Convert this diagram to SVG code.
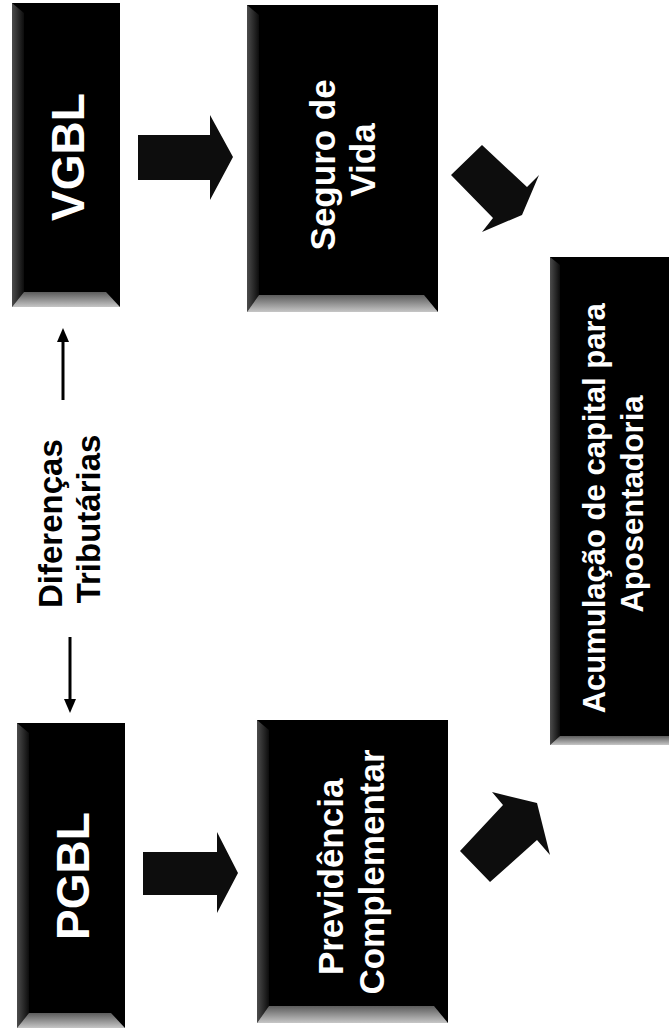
<svg xmlns="http://www.w3.org/2000/svg" width="669" height="1033" viewBox="0 0 669 1033">
  <defs>
    <linearGradient id="bevelBottom" x1="0" y1="0" x2="0" y2="1">
      <stop offset="0" stop-color="#5c5c5c"/>
      <stop offset="1" stop-color="#c6c6c6"/>
    </linearGradient>
    <linearGradient id="bevelLeft" x1="0" y1="0" x2="1" y2="0">
      <stop offset="0" stop-color="#4c4c4c"/>
      <stop offset="1" stop-color="#0c0c0c"/>
    </linearGradient>
    <marker id="head" viewBox="0 0 14 12" refX="4" refY="6" markerWidth="14" markerHeight="12" markerUnits="userSpaceOnUse" orient="auto">
      <path d="M0,0 L14,6 L0,12 z" fill="#000"/>
    </marker>
  </defs>
  <style>
    .box { fill: #000; }
    .bev-b { fill: url(#bevelBottom); }
    .bev-l { fill: url(#bevelLeft); }
    .label { font-family: "Liberation Sans", Arial, sans-serif; font-weight: bold; fill: #fff; text-anchor: middle; }
    .note { font-family: "Liberation Sans", Arial, sans-serif; font-weight: bold; fill: #000; text-anchor: middle; font-size: 33px; }
    .block { fill: #0d0d0d; }
    .thin { stroke: #000; stroke-width: 3; fill: none; marker-end: url(#head); }
  </style>

  <rect width="669" height="1033" fill="#fff"/>

  <!-- VGBL -->
  <g id="vgbl">
    <rect class="box" x="12" y="3" width="108" height="304"/>
    <polygon class="bev-l" points="12,3 24,13 24,292 12,307"/>
    <polygon class="bev-b" points="12,307 24,292 106,292 120,307"/>
    <text class="label" font-size="46" transform="translate(68,157) rotate(-90)" y="16">VGBL</text>
  </g>

  <!-- Seguro de Vida -->
  <g id="seguro">
    <rect class="box" x="247" y="5" width="191" height="307"/>
    <polygon class="bev-l" points="247,5 259,15 259,295 247,312"/>
    <polygon class="bev-b" points="247,312 259,295 424,295 438,312"/>
    <text class="label" font-size="35" transform="translate(0,160) rotate(-90)">
      <tspan x="0" y="335">Seguro de</tspan>
      <tspan x="0" y="375">Vida</tspan>
    </text>
  </g>

  <!-- Acumulação de capital para Aposentadoria -->
  <g id="acumulacao">
    <rect class="box" x="550" y="257" width="119" height="488"/>
    <polygon class="bev-l" points="550,257 560,265 560,736 550,745"/>
    <polygon class="bev-b" points="550,745 560,736 669,736 669,745"/>
    <text class="label" font-size="31" transform="translate(0,504) rotate(-90)">
      <tspan x="0" y="605">Acumulação de capital para</tspan>
      <tspan x="0" y="643">Aposentadoria</tspan>
    </text>
  </g>

  <!-- PGBL -->
  <g id="pgbl">
    <rect class="box" x="17" y="723" width="108" height="305"/>
    <polygon class="bev-l" points="17,723 29,733 29,1013 17,1028"/>
    <polygon class="bev-b" points="17,1028 29,1013 111,1013 125,1028"/>
    <text class="label" font-size="46" transform="translate(72,876) rotate(-90)" y="17">PGBL</text>
  </g>

  <!-- Previdência Complementar -->
  <g id="previdencia">
    <rect class="box" x="257" y="720" width="191" height="303"/>
    <polygon class="bev-l" points="257,720 269,730 269,1006 257,1023"/>
    <polygon class="bev-b" points="257,1023 269,1006 434,1006 448,1023"/>
    <text class="label" font-size="35" transform="translate(0,872) rotate(-90)">
      <tspan x="0" y="343">Previdência</tspan>
      <tspan x="0" y="384">Complementar</tspan>
    </text>
  </g>

  <!-- Diferenças Tributárias -->
  <g id="diferencas">
    <text class="note" transform="translate(0,519) rotate(-90)">
      <tspan x="0" y="62">Diferenças</tspan>
      <tspan x="0" y="100">Tributárias</tspan>
    </text>
  </g>

  <!-- connectors -->
  <g id="connectors">
    <!-- block arrows between the boxes -->
    <polygon class="block" points="138,135 210,135 210,115 233,157 210,200 210,180 138,180"/>
    <polygon class="block" points="143,852 217,852 217,832 238,873 217,913 217,895 143,895"/>
    <polygon class="block" points="451,175 482,145 527,187 539,175 522,215 482,232 493,218"/>
    <polygon class="block" points="460,851 503,805 492,792 537,803 550,855 537,840 490,882"/>
    <!-- thin arrows around the tax note -->
    <line class="thin" x1="63" y1="400" x2="63" y2="338"/>
    <line class="thin" x1="70" y1="637" x2="70" y2="703"/>
  </g>
</svg>
